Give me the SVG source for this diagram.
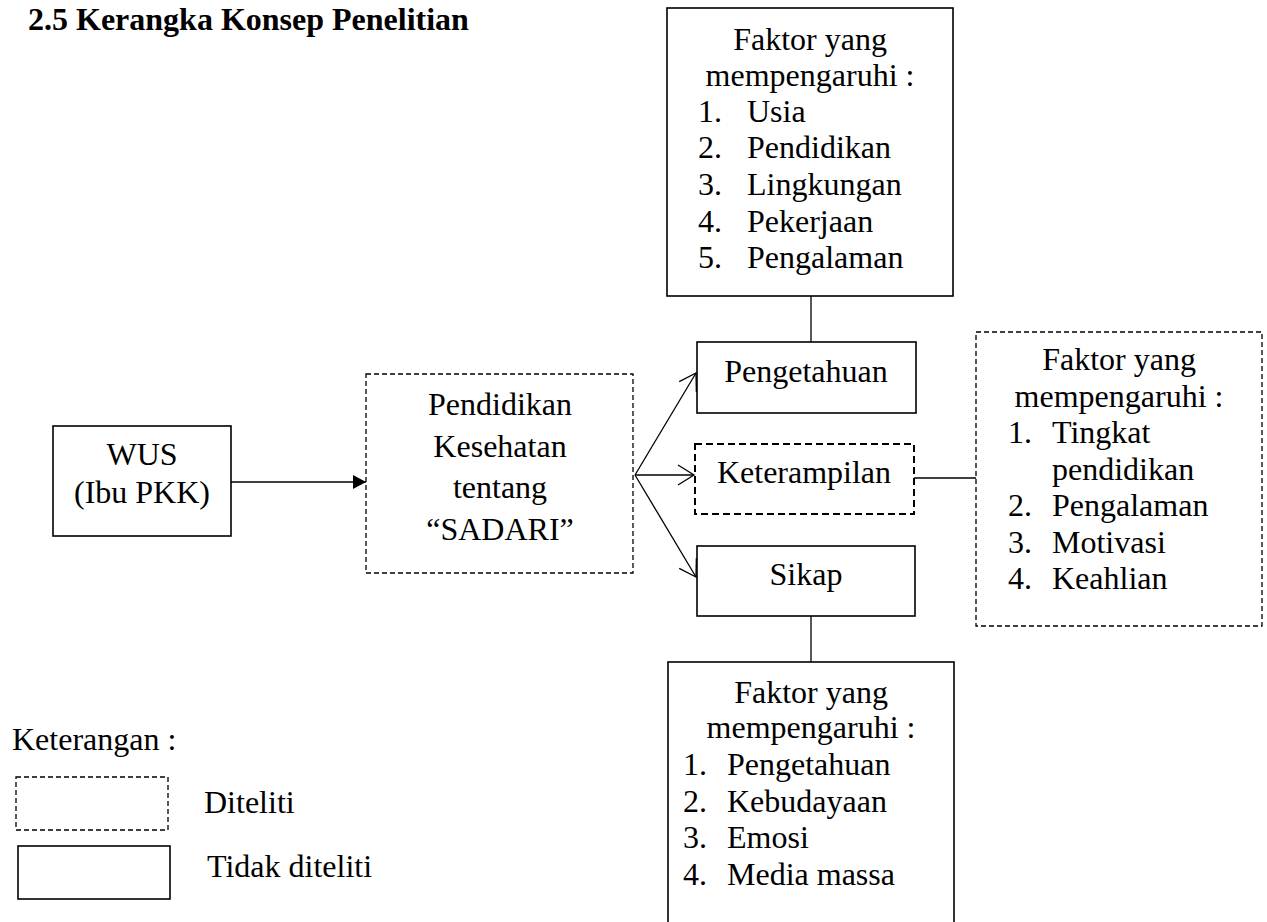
<svg xmlns="http://www.w3.org/2000/svg" width="1267" height="922" viewBox="0 0 1267 922" font-family="Liberation Serif, serif">
<style>
text{font-family:'Liberation Serif',serif;font-size:32px;fill:#000}
.t{font-weight:bold;font-size:32px}
.c{text-anchor:middle}
.box{fill:#fff;stroke:#000;stroke-width:1.6}
.dash{fill:#fff;stroke:#000;stroke-width:1.3;stroke-dasharray:5 3}
.dash2{fill:#fff;stroke:#000;stroke-width:2;stroke-dasharray:7 4}
.ln{stroke:#000;stroke-width:1.3;fill:none}
</style>
<defs>
<marker id="fill" markerUnits="userSpaceOnUse" markerWidth="14" markerHeight="14" refX="13" refY="7" orient="auto">
<path d="M0,0 L13,7 L0,14 z" fill="#000"/>
</marker>
<marker id="open" markerUnits="userSpaceOnUse" markerWidth="20" markerHeight="24" refX="17" refY="12" orient="auto">
<path d="M1,2 L17,12 L1,22" fill="none" stroke="#000" stroke-width="1.3"/>
</marker>
</defs>
<rect width="1267" height="922" fill="#fff"/>
<text class="t" x="28" y="30">2.5 Kerangka Konsep Penelitian</text>

<g id="connectors">
<line class="ln" x1="231" y1="482" x2="366" y2="482" marker-end="url(#fill)"/>
<line class="ln" x1="635" y1="475" x2="696" y2="373" marker-end="url(#open)"/>
<line class="ln" x1="635" y1="475" x2="694" y2="475" marker-end="url(#open)"/>
<line class="ln" x1="635" y1="475" x2="696" y2="577" marker-end="url(#open)"/>
<line class="ln" x1="811" y1="296" x2="811" y2="342"/>
<line class="ln" x1="811" y1="616" x2="811" y2="662"/>
<line class="ln" x1="914" y1="478" x2="976" y2="478"/>
</g>

<g id="top-factors">
<rect class="box" x="667" y="8" width="286" height="288"/>
<text class="c" x="810" y="50">Faktor yang</text>
<text class="c" x="810" y="86">mempengaruhi :</text>
<text x="698" y="122">1.</text><text x="747" y="122">Usia</text>
<text x="698" y="158">2.</text><text x="747" y="158">Pendidikan</text>
<text x="698" y="195">3.</text><text x="747" y="195">Lingkungan</text>
<text x="698" y="232">4.</text><text x="747" y="232">Pekerjaan</text>
<text x="698" y="268">5.</text><text x="747" y="268">Pengalaman</text>
</g>

<g id="wus">
<rect class="box" x="53" y="426" width="178" height="110"/>
<text class="c" x="142" y="465">WUS</text>
<text class="c" x="142" y="503">(Ibu PKK)</text>
</g>

<g id="pendidikan">
<rect class="dash" x="366" y="374" width="267" height="199"/>
<text class="c" x="500" y="415">Pendidikan</text>
<text class="c" x="500" y="457">Kesehatan</text>
<text class="c" x="500" y="498">tentang</text>
<text class="c" x="500" y="540">“SADARI”</text>
</g>

<g id="pengetahuan">
<rect class="box" x="697" y="342" width="219" height="71"/>
<text class="c" x="806" y="382">Pengetahuan</text>
</g>

<g id="keterampilan">
<rect class="dash2" x="695" y="444" width="219" height="70"/>
<text class="c" x="804" y="483">Keterampilan</text>
</g>

<g id="sikap">
<rect class="box" x="697" y="546" width="218" height="70"/>
<text class="c" x="806" y="585">Sikap</text>
</g>

<g id="right-factors">
<rect class="dash" x="976" y="332" width="286" height="294"/>
<text class="c" x="1119" y="370">Faktor yang</text>
<text class="c" x="1119" y="407">mempengaruhi :</text>
<text x="1008" y="443">1.</text><text x="1052" y="443">Tingkat</text>
<text x="1052" y="480">pendidikan</text>
<text x="1008" y="516">2.</text><text x="1052" y="516">Pengalaman</text>
<text x="1008" y="553">3.</text><text x="1052" y="553">Motivasi</text>
<text x="1008" y="589">4.</text><text x="1052" y="589">Keahlian</text>
</g>

<g id="bottom-factors">
<rect class="box" x="668" y="662" width="286" height="270"/>
<text class="c" x="811" y="703">Faktor yang</text>
<text class="c" x="811" y="738">mempengaruhi :</text>
<text x="683" y="775">1.</text><text x="727" y="775">Pengetahuan</text>
<text x="683" y="812">2.</text><text x="727" y="812">Kebudayaan</text>
<text x="683" y="848">3.</text><text x="727" y="848">Emosi</text>
<text x="683" y="885">4.</text><text x="727" y="885">Media massa</text>
</g>

<g id="legend">
<text x="12" y="750">Keterangan :</text>
<rect class="dash" x="16" y="777" width="152" height="53"/>
<text x="204" y="813">Diteliti</text>
<rect class="box" x="18" y="846" width="152" height="53"/>
<text x="207" y="877">Tidak diteliti</text>
</g>
</svg>
